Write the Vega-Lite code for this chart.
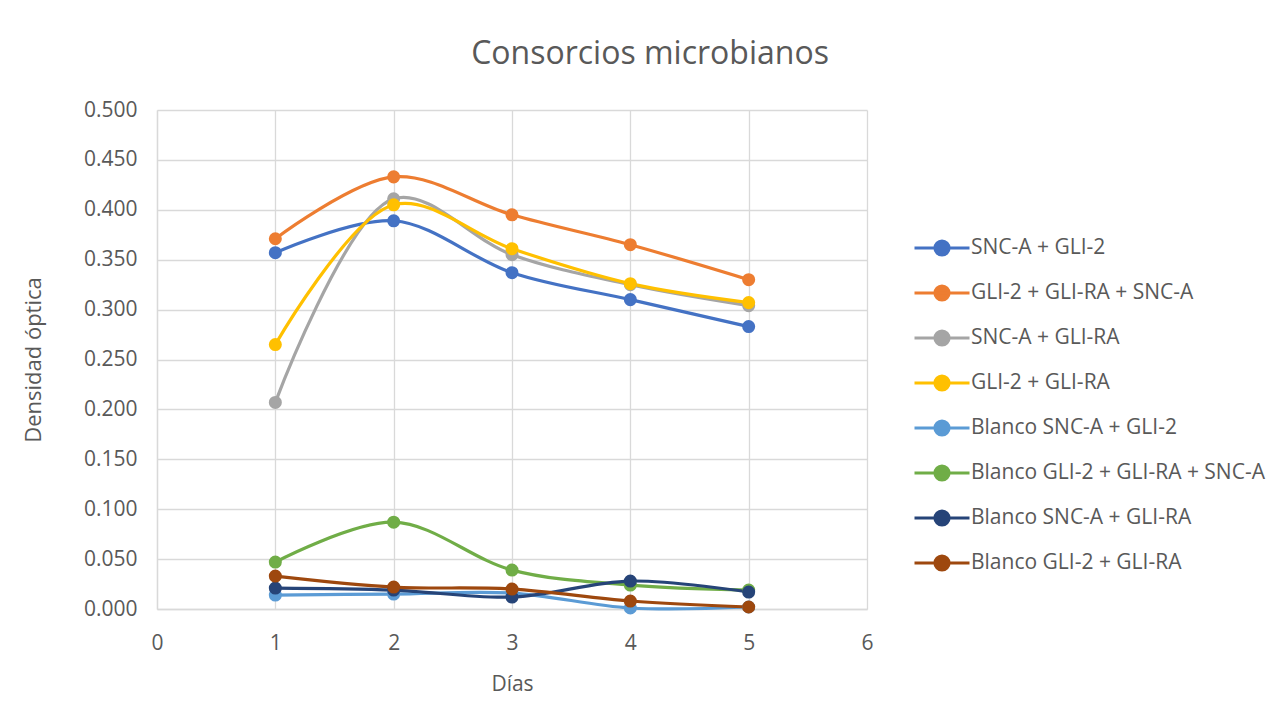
{
  "$schema": "https://vega.github.io/schema/vega-lite/v6.json",
  "autosize": "none",
  "width": 710,
  "height": 499,
  "padding": {"left": 157, "top": 110, "right": 413, "bottom": 114},
  "background": "white",
  "config": {
    "font": "Open Sans",
    "view": {"stroke": null}
  },
  "title": {
    "text": "Consorcios microbianos",
    "anchor": "middle",
    "frame": "group",
    "dx": 138,
    "offset": 28,
    "fontSize": 32,
    "fontWeight": "normal",
    "color": "#595959",
    "font": "Open Sans"
  },
  "data": {
    "values": [
      {"dia": 1, "serie": "SNC-A + GLI-2", "valor": 0.357},
      {"dia": 2, "serie": "SNC-A + GLI-2", "valor": 0.389},
      {"dia": 3, "serie": "SNC-A + GLI-2", "valor": 0.337},
      {"dia": 4, "serie": "SNC-A + GLI-2", "valor": 0.310},
      {"dia": 5, "serie": "SNC-A + GLI-2", "valor": 0.283},
      {"dia": 1, "serie": "GLI-2 + GLI-RA + SNC-A", "valor": 0.371},
      {"dia": 2, "serie": "GLI-2 + GLI-RA + SNC-A", "valor": 0.433},
      {"dia": 3, "serie": "GLI-2 + GLI-RA + SNC-A", "valor": 0.395},
      {"dia": 4, "serie": "GLI-2 + GLI-RA + SNC-A", "valor": 0.365},
      {"dia": 5, "serie": "GLI-2 + GLI-RA + SNC-A", "valor": 0.330},
      {"dia": 1, "serie": "SNC-A + GLI-RA", "valor": 0.207},
      {"dia": 2, "serie": "SNC-A + GLI-RA", "valor": 0.411},
      {"dia": 3, "serie": "SNC-A + GLI-RA", "valor": 0.355},
      {"dia": 4, "serie": "SNC-A + GLI-RA", "valor": 0.325},
      {"dia": 5, "serie": "SNC-A + GLI-RA", "valor": 0.304},
      {"dia": 1, "serie": "GLI-2 + GLI-RA", "valor": 0.265},
      {"dia": 2, "serie": "GLI-2 + GLI-RA", "valor": 0.405},
      {"dia": 3, "serie": "GLI-2 + GLI-RA", "valor": 0.361},
      {"dia": 4, "serie": "GLI-2 + GLI-RA", "valor": 0.326},
      {"dia": 5, "serie": "GLI-2 + GLI-RA", "valor": 0.307},
      {"dia": 1, "serie": "Blanco SNC-A + GLI-2", "valor": 0.014},
      {"dia": 2, "serie": "Blanco SNC-A + GLI-2", "valor": 0.015},
      {"dia": 3, "serie": "Blanco SNC-A + GLI-2", "valor": 0.016},
      {"dia": 4, "serie": "Blanco SNC-A + GLI-2", "valor": 0.001},
      {"dia": 5, "serie": "Blanco SNC-A + GLI-2", "valor": 0.002},
      {"dia": 1, "serie": "Blanco GLI-2 + GLI-RA + SNC-A", "valor": 0.047},
      {"dia": 2, "serie": "Blanco GLI-2 + GLI-RA + SNC-A", "valor": 0.087},
      {"dia": 3, "serie": "Blanco GLI-2 + GLI-RA + SNC-A", "valor": 0.039},
      {"dia": 4, "serie": "Blanco GLI-2 + GLI-RA + SNC-A", "valor": 0.024},
      {"dia": 5, "serie": "Blanco GLI-2 + GLI-RA + SNC-A", "valor": 0.019},
      {"dia": 1, "serie": "Blanco SNC-A + GLI-RA", "valor": 0.021},
      {"dia": 2, "serie": "Blanco SNC-A + GLI-RA", "valor": 0.019},
      {"dia": 3, "serie": "Blanco SNC-A + GLI-RA", "valor": 0.012},
      {"dia": 4, "serie": "Blanco SNC-A + GLI-RA", "valor": 0.028},
      {"dia": 5, "serie": "Blanco SNC-A + GLI-RA", "valor": 0.017},
      {"dia": 1, "serie": "Blanco GLI-2 + GLI-RA", "valor": 0.033},
      {"dia": 2, "serie": "Blanco GLI-2 + GLI-RA", "valor": 0.022},
      {"dia": 3, "serie": "Blanco GLI-2 + GLI-RA", "valor": 0.020},
      {"dia": 4, "serie": "Blanco GLI-2 + GLI-RA", "valor": 0.008},
      {"dia": 5, "serie": "Blanco GLI-2 + GLI-RA", "valor": 0.002}
    ]
  },
  "mark": {
    "type": "line",
    "interpolate": "catmull-rom",
    "strokeWidth": 3.2,
    "clip": false,
    "point": {"filled": true, "size": 170, "opacity": 1}
  },
  "encoding": {
    "x": {
      "field": "dia",
      "type": "quantitative",
      "title": "Días",
      "scale": {"domain": [0, 6], "nice": false, "zero": false},
      "axis": {
        "values": [0, 1, 2, 3, 4, 5, 6],
        "format": "d",
        "labelFlush": false,
        "grid": true,
        "gridColor": "#d9d9d9",
        "gridWidth": 1.3,
        "domain": true,
        "domainColor": "#d9d9d9",
        "domainWidth": 1.3,
        "ticks": false,
        "labelFontSize": 21,
        "labelColor": "#595959",
        "labelPadding": 23,
        "titleFontSize": 21,
        "titleFontWeight": "normal",
        "titleColor": "#595959",
        "titlePadding": 20
      }
    },
    "y": {
      "field": "valor",
      "type": "quantitative",
      "title": "Densidad óptica",
      "scale": {"domain": [0, 0.5], "nice": false},
      "axis": {
        "values": [0, 0.05, 0.1, 0.15, 0.2, 0.25, 0.3, 0.35, 0.4, 0.45, 0.5],
        "format": ".3f",
        "labelFlush": false,
        "grid": true,
        "gridColor": "#d9d9d9",
        "gridWidth": 1.3,
        "domain": true,
        "domainColor": "#d9d9d9",
        "domainWidth": 1.3,
        "ticks": false,
        "labelFontSize": 21,
        "labelColor": "#595959",
        "labelPadding": 20,
        "titleFontSize": 22,
        "titleFontWeight": "normal",
        "titleColor": "#595959",
        "titlePadding": 38
      }
    },
    "color": {
      "field": "serie",
      "type": "nominal",
      "sort": [
        "SNC-A + GLI-2",
        "GLI-2 + GLI-RA + SNC-A",
        "SNC-A + GLI-RA",
        "GLI-2 + GLI-RA",
        "Blanco SNC-A + GLI-2",
        "Blanco GLI-2 + GLI-RA + SNC-A",
        "Blanco SNC-A + GLI-RA",
        "Blanco GLI-2 + GLI-RA"
      ],
      "scale": {
        "domain": [
          "SNC-A + GLI-2",
          "GLI-2 + GLI-RA + SNC-A",
          "SNC-A + GLI-RA",
          "GLI-2 + GLI-RA",
          "Blanco SNC-A + GLI-2",
          "Blanco GLI-2 + GLI-RA + SNC-A",
          "Blanco SNC-A + GLI-RA",
          "Blanco GLI-2 + GLI-RA"
        ],
        "range": ["#4472C4", "#ED7D31", "#A5A5A5", "#FFC000", "#5B9BD5", "#70AD47", "#264478", "#9E480E"]
      },
      "legend": {
        "title": null,
        "orient": "none",
        "legendX": 773,
        "legendY": 126,
        "padding": 0,
        "symbolType": "M-2.75,0H2.75M0.7,0A0.7,0.7,0,1,1,-0.7,0A0.7,0.7,0,1,1,0.7,0Z",
        "symbolSize": 400,
        "symbolStrokeWidth": 3.2,
        "labelOffset": 17,
        "labelFontSize": 21,
        "labelColor": "#595959",
        "labelLimit": 400,
        "rowPadding": 17,
        "encode": {
          "symbols": {
            "update": {
              "fill": {"scale": "color", "field": "value"},
              "stroke": {"scale": "color", "field": "value"},
              "fillOpacity": {"value": 1},
              "strokeOpacity": {"value": 1}
            }
          }
        }
      }
    }
  }
}
